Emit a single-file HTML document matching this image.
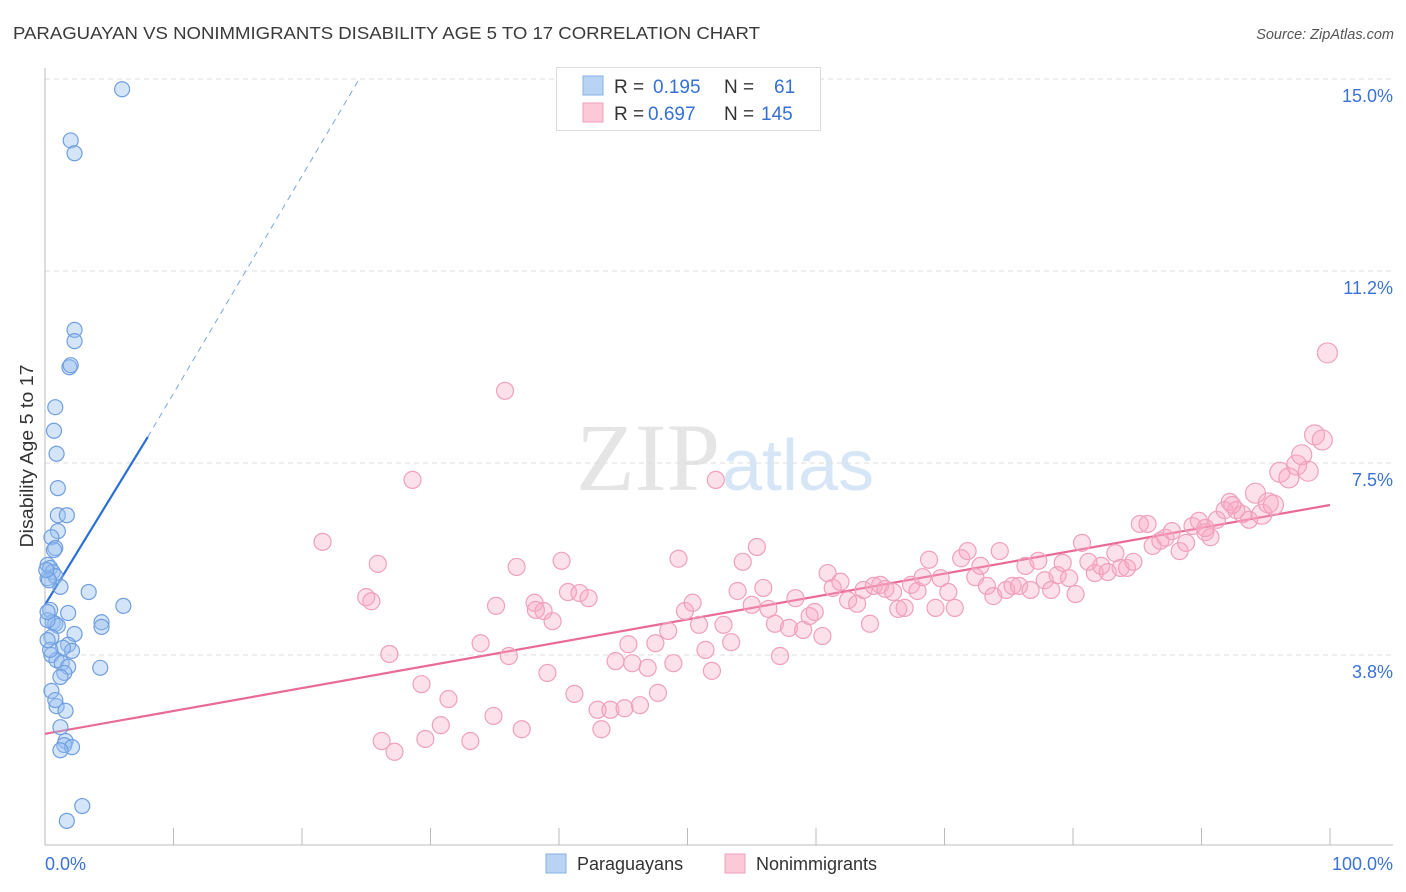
<!DOCTYPE html>
<html><head><meta charset="utf-8"><style>
body{margin:0;background:#fff;font-family:"Liberation Sans",sans-serif;}
svg{display:block}
</style></head><body>
<svg id="chart" width="1406" height="892">
<text x="13" y="39" font-size="17.5" fill="#3a3a3a" textLength="747" lengthAdjust="spacingAndGlyphs">PARAGUAYAN VS NONIMMIGRANTS DISABILITY AGE 5 TO 17 CORRELATION CHART</text>
<text x="1394" y="39" font-size="14.5" fill="#555" font-style="italic" text-anchor="end">Source: ZipAtlas.com</text>
<text transform="translate(33,456) rotate(-90)" font-size="18" fill="#333" text-anchor="middle" textLength="183" lengthAdjust="spacingAndGlyphs">Disability Age 5 to 17</text>
<text x="720" y="490" font-size="96" fill="#e5e5e5" text-anchor="end" font-family="Liberation Serif,serif">ZIP</text>
<text x="722" y="490" font-size="72" fill="#d6e6f6">atlas</text>
<g id="grid"></g><g id="axes"></g><g id="trend"></g><g id="pts"></g>
<g>
<rect x="556.5" y="67.5" width="264" height="63" fill="#fff" stroke="#ddd"/>
<rect x="583" y="76" width="20" height="19" fill="#b9d3f5" stroke="#86b0e6"/>
<rect x="583" y="103" width="20" height="19" fill="#fbc9d8" stroke="#f0a0ba"/>
<text x="614" y="93" font-size="19" fill="#333">R = <tspan fill="#3570d4" x="653">0.195</tspan><tspan x="724">N =</tspan><tspan fill="#3570d4" x="774">61</tspan></text>
<text x="614" y="120" font-size="19" fill="#333">R = <tspan fill="#3570d4" x="648">0.697</tspan><tspan x="724">N =</tspan><tspan fill="#3570d4" x="761">145</tspan></text>
</g>
<g>
<rect x="546" y="854" width="20" height="19" fill="#b9d3f5" stroke="#86b0e6"/>
<text x="577" y="870" font-size="18" fill="#333">Paraguayans</text>
<rect x="725" y="854" width="20" height="19" fill="#fbc9d8" stroke="#f0a0ba"/>
<text x="756" y="870" font-size="18" fill="#333">Nonimmigrants</text>
</g>
</svg>
<script>
const yTicks=[3.8,7.5,11.2,15.0];
const yTickVals=[3.75,7.5,11.25,15.0];
const xTickLabels=["0.0%","100.0%"];
const blueX=[6.0,2.0,2.3,2.3,2.3,1.9,2.0,0.8,0.7,0.9,1.0,1.0,1.7,1.0,0.5,0.8,0.7,0.2,0.4,0.6,0.2,0.8,1.2,3.4,6.1,1.8,0.4,0.6,0.8,1.0,4.4,4.4,2.3,0.5,1.8,2.1,1.4,0.5,0.9,1.3,1.8,4.3,1.5,1.2,0.5,0.9,1.6,1.2,1.6,1.5,2.1,1.2,2.9,1.7,0.2,0.2,0.3,0.1,0.4,0.8,0.2];
const blueY=[14.8,13.8,13.55,10.1,9.88,9.37,9.41,8.59,8.13,7.68,7.01,6.48,6.48,6.17,6.05,5.84,5.8,5.51,5.45,5.37,5.25,5.29,5.08,4.98,4.71,4.57,4.63,4.39,4.36,4.32,4.39,4.3,4.16,4.1,3.95,3.83,3.89,3.75,3.65,3.59,3.52,3.5,3.4,3.32,3.05,2.75,2.66,2.34,2.07,1.99,1.95,1.89,0.8,0.51,4.43,4.59,5.21,5.41,3.85,2.87,4.04];
const pinkX=[35.8,28.6,52.2,21.6,25.9,25.0,25.4,36.7,40.2,49.3,54.3,55.4,35.1,38.1,38.8,39.5,40.7,41.6,42.3,38.2,33.9,26.8,36.1,29.3,31.4,39.1,41.2,34.9,37.1,30.8,26.2,27.2,29.6,33.1,43.0,43.3,44.0,45.1,46.3,47.7,44.4,45.7,46.9,48.9,45.4,47.5,48.5,49.8,50.4,50.9,51.4,51.9,52.8,53.4,53.9,55.0,55.9,56.3,56.8,57.2,57.9,58.4,59.0,59.5,59.9,60.5,60.9,61.3,61.9,62.5,63.2,63.7,64.2,64.5,65.0,65.4,66.0,66.4,66.9,67.4,67.9,68.3,68.8,69.3,69.7,70.3,70.8,71.3,71.8,72.4,72.8,73.3,73.8,74.3,74.8,75.3,75.8,76.3,76.7,77.3,77.8,78.3,78.8,79.2,79.7,80.2,80.7,81.2,81.7,82.2,82.7,83.3,83.7,84.2,84.7,85.2,85.8,86.2,86.8,87.2,87.7,88.3,88.8,89.3,89.8,90.3,90.7,91.2,91.8,92.2,92.7,93.2,93.7,94.2,94.7,95.2,95.6,96.1,96.8,97.4,97.8,98.3,98.8,99.4,99.8,90.3,92.4];
const pinkY=[8.91,7.17,7.17,5.96,5.53,4.88,4.8,5.47,5.59,5.63,5.57,5.86,4.71,4.77,4.61,4.41,4.98,4.96,4.86,4.63,3.98,3.77,3.73,3.18,2.89,3.4,2.99,2.56,2.3,2.38,2.07,1.86,2.11,2.07,2.68,2.3,2.68,2.71,2.77,3.01,3.63,3.59,3.5,3.59,3.96,3.98,4.22,4.61,4.77,4.34,3.85,3.44,4.34,4.0,5.0,4.73,5.06,4.65,4.36,3.73,4.28,4.86,4.24,4.51,4.59,4.12,5.35,5.06,5.18,4.82,4.75,5.02,4.36,5.1,5.12,5.04,4.98,4.65,4.67,5.12,5.0,5.27,5.61,4.67,5.25,4.98,4.67,5.64,5.78,5.27,5.49,5.1,4.9,5.78,5.02,5.1,5.1,5.49,5.02,5.59,5.21,5.02,5.31,5.55,5.25,4.94,5.94,5.57,5.35,5.49,5.37,5.74,5.45,5.45,5.57,6.31,6.31,5.88,5.98,6.04,6.17,5.78,5.94,6.27,6.37,6.15,6.05,6.39,6.58,6.74,6.58,6.5,6.39,6.91,6.5,6.72,6.68,7.32,7.21,7.46,7.66,7.34,8.05,7.95,9.65,6.23,6.68];
const blueTrend=[0,4.73,8,8.01,24.5,15.02];
const pinkTrend=[0,2.21,100,6.68];
const NS="http://www.w3.org/2000/svg";
const X=v=>45+v*12.85, Y=v=>655-(v-3.75)*51.2;
function mk(tag,attrs,parent){const e=document.createElementNS(NS,tag);for(const k in attrs)e.setAttribute(k,attrs[k]);document.getElementById(parent).appendChild(e);return e;}
yTickVals.forEach((v,i)=>{
 const g=mk('line',{x1:45,x2:1393,y1:Y(v),y2:Y(v),stroke:'#ddd','stroke-dasharray':'5,4'},'grid');
 
 
 const t=mk('text',{x:1393,y:Y(v)+23,'font-size':18,fill:'#3a72d6','text-anchor':'end'},'grid');
 t.textContent=yTicks[i].toFixed(1)+'%';
 
 
});
const ya=mk('line',{x1:45,x2:45,y1:68,y2:845,stroke:'#bbb'},'axes');


const xa=mk('line',{x1:45,x2:1393,y1:845,y2:845,stroke:'#bbb'},'axes');


for(let i=0;i<=10;i++){const t=mk('line',{x1:X(i*10),x2:X(i*10),y1:828,y2:845,stroke:'#bbb'},'axes');
 
 }
[[0,'start',45],[100,'end',1393]].forEach((a,i)=>{const t=mk('text',{x:a[2],y:870,'font-size':18,fill:'#3a72d6','text-anchor':a[1]},'axes');t.textContent=xTickLabels[i];
 
 });
const bl=mk('line',{x1:X(blueTrend[0]),y1:Y(blueTrend[1]),x2:X(blueTrend[2]),y2:Y(blueTrend[3]),stroke:'#2a6fd6','stroke-width':2.2},'trend');


const bd=mk('line',{x1:X(blueTrend[2]),y1:Y(blueTrend[3]),x2:X(blueTrend[4]),y2:Y(blueTrend[5]),stroke:'#7aa6e3','stroke-width':1,'stroke-dasharray':'6,5'},'trend');


const pl=mk('line',{x1:X(pinkTrend[0]),y1:Y(pinkTrend[1]),x2:X(pinkTrend[2]),y2:Y(pinkTrend[3]),stroke:'#e96a96','stroke-width':2.2},'trend');


pinkX.forEach((x,i)=>{const r=x>94?10:8.5;const c=mk('circle',{cx:X(x),cy:Y(pinkY[i]),r:r,fill:'rgba(248,170,195,0.35)',stroke:'#f0a0ba','stroke-width':1.2},'pts');
 
 });
blueX.forEach((x,i)=>{const c=mk('circle',{cx:X(x),cy:Y(blueY[i]),r:7.5,fill:'rgba(150,190,240,0.4)',stroke:'#6f9fe0','stroke-width':1.2},'pts');
 
 });
</script>
</body></html>
